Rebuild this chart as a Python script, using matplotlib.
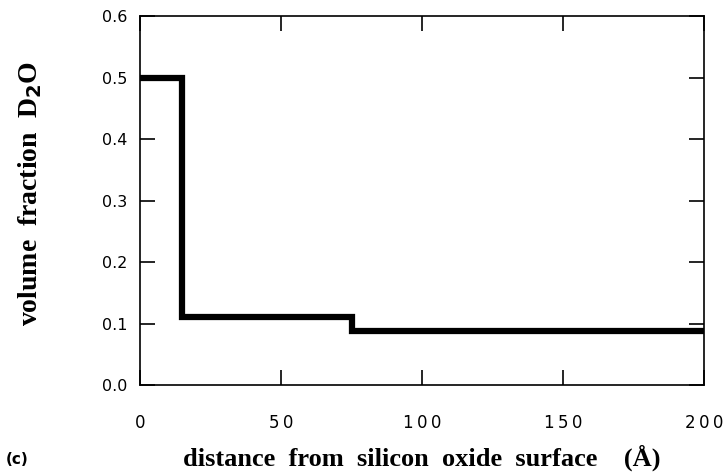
import matplotlib
matplotlib.use("Agg")
import matplotlib.pyplot as plt

# step profile: edges of the layers and volume fraction in each layer
edges = [0, 15, 75, 200]
fraction = [0.5, 0.11, 0.088]

xticks = [0, 50, 100, 150, 200]
yticks = [0.0, 0.1, 0.2, 0.3, 0.4, 0.5, 0.6]

fig = plt.figure(figsize=(7.26, 4.72), dpi=100)
ax = fig.add_axes([0.193, 0.184, 0.777, 0.782])

xs = []
ys = []
for i in range(len(fraction)):
    xs += [edges[i], edges[i + 1]]
    ys += [fraction[i], fraction[i]]
ax.plot(xs, ys, color='black', lw=4.5, solid_joinstyle='miter',
        solid_capstyle='butt', clip_on=False)

ax.set_xlim(0, 200)
ax.set_ylim(0, 0.6)
ax.set_xticks(xticks)
ax.set_yticks(yticks)
# the original print has wide letter spacing on the x tick labels
ax.set_xticklabels(['\u2009'.join(str(t)) for t in xticks], fontsize=12)
ax.set_yticklabels(['%.1f' % t for t in yticks], fontsize=11.5)
ax.tick_params(direction='in', length=11, width=1.2, top=True, right=True)
ax.tick_params(axis='x', pad=21)
ax.tick_params(axis='y', pad=9)
for s in ax.spines.values():
    s.set_linewidth(1.2)

ax.set_xlabel('distance  from  silicon  oxide  surface    (Å)',
              family='Liberation Serif', weight='bold', size=19, labelpad=9)
ax.set_ylabel('volume  fraction  D$_\\mathbf{2}$O',
              family='Liberation Serif', weight='bold', size=20)
ax.yaxis.set_label_coords(-0.17, 0.52)
fig.text(0.008, 0.018, '(c)', fontsize=11, fontweight='bold')

fig.savefig('out.png', dpi=100)
